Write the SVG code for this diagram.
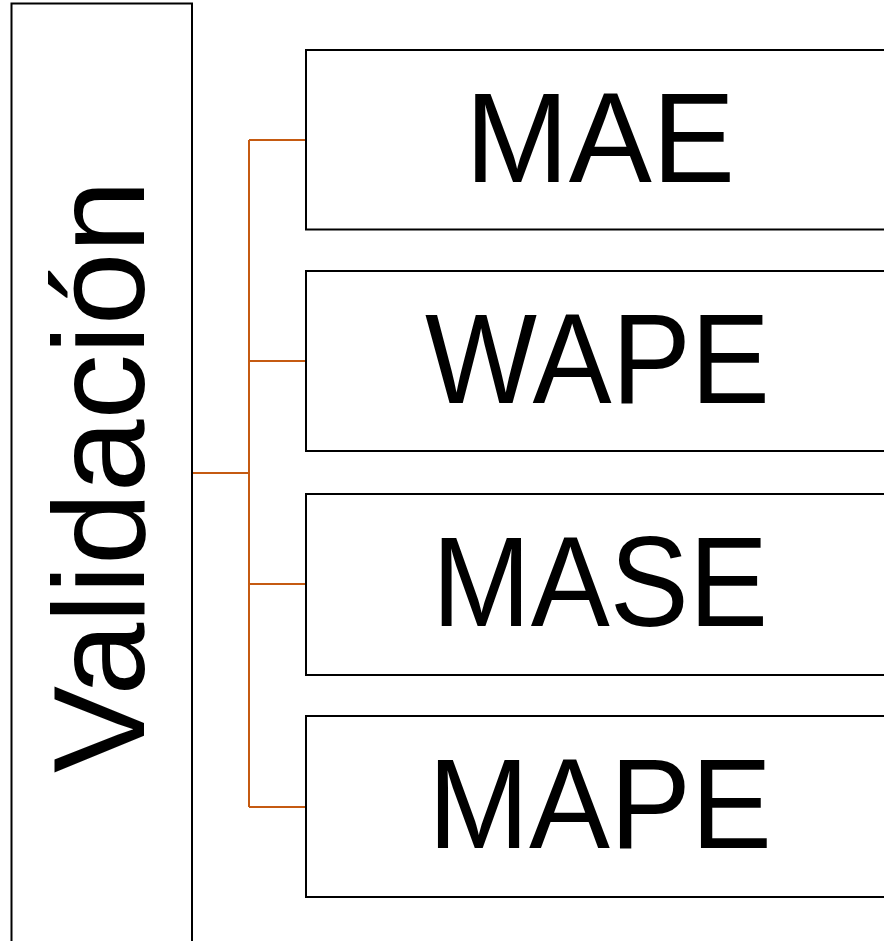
<svg xmlns="http://www.w3.org/2000/svg" width="884" height="941" viewBox="0 0 884 941">
<style>
.box{fill:#fff;stroke:#000;stroke-width:2}
.lbl{font-family:"Liberation Sans",Arial,sans-serif;font-size:128px;fill:#000;text-anchor:middle}
.con{fill:none;stroke:#C55A11;stroke-width:2}
</style>
<rect width="884" height="941" fill="#fff"/>
<g id="connectors">
<path class="con" d="M192 473 H249" stroke-width="3"/>
<path class="con" d="M249 140 V807"/>
<path class="con" d="M249 140 H306 M249 361 H306 M249 584 H306 M249 807 H306"/>
</g>
<g id="validacion">
<rect class="box" x="11.5" y="3.5" width="180.5" height="950"/>
<text class="lbl" style="font-size:130px" transform="translate(144 476.5) rotate(-90)" textLength="593" lengthAdjust="spacingAndGlyphs">Validación</text>
</g>
<g id="mae">
<rect class="box" x="306" y="50" width="600" height="179.5"/>
<text class="lbl" x="600" y="182" textLength="270" lengthAdjust="spacingAndGlyphs">MAE</text>
</g>
<g id="wape">
<rect class="box" x="306" y="271" width="600" height="180"/>
<text class="lbl" x="597.5" y="403" textLength="345" lengthAdjust="spacingAndGlyphs">WAPE</text>
</g>
<g id="mase">
<rect class="box" x="306" y="494" width="600" height="181"/>
<text class="lbl" x="600" y="626" textLength="336" lengthAdjust="spacingAndGlyphs">MASE</text>
</g>
<g id="mape">
<rect class="box" x="306" y="716" width="600" height="181"/>
<text class="lbl" x="600" y="848" textLength="344" lengthAdjust="spacingAndGlyphs">MAPE</text>
</g>
</svg>
